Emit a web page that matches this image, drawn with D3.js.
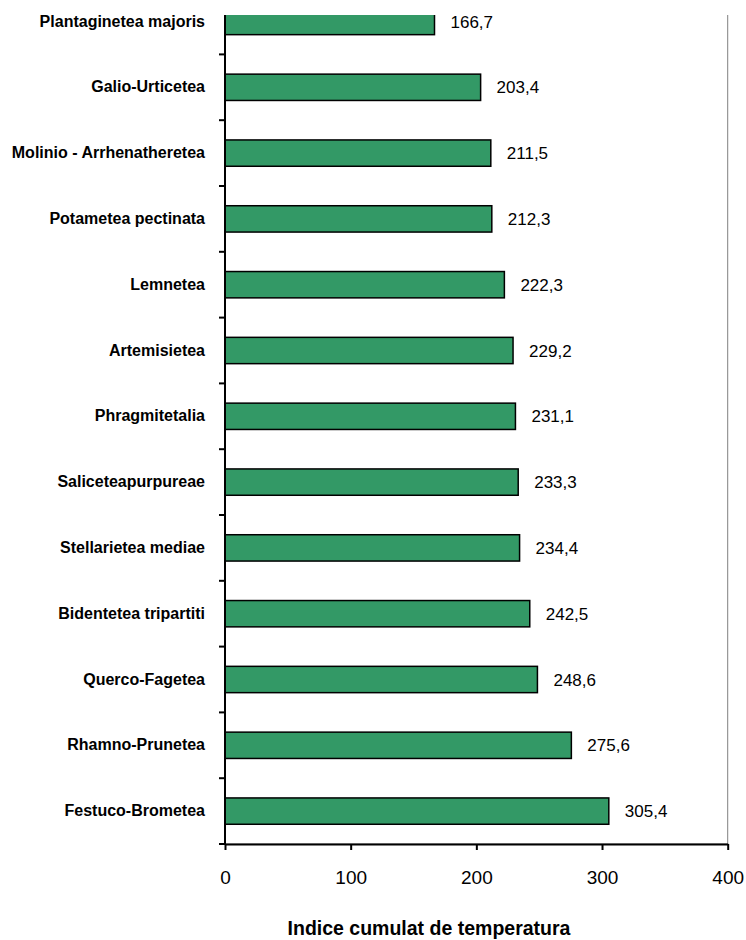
<!DOCTYPE html>
<html>
<head>
<meta charset="utf-8">
<script src="https://cdn.jsdelivr.net/npm/d3@7/dist/d3.min.js"></script>
<style>
  html, body { margin: 0; padding: 0; background: #fff; }
  svg { display: block; }
</style>
</head>
<body>
<script>
// Plant community classes, top to bottom
const categories = [
  "Plantaginetea majoris",
  "Galio-Urticetea",
  "Molinio - Arrhenatheretea",
  "Potametea pectinata",
  "Lemnetea",
  "Artemisietea",
  "Phragmitetalia",
  "Saliceteapurpureae",
  "Stellarietea mediae",
  "Bidentetea tripartiti",
  "Querco-Fagetea",
  "Rhamno-Prunetea",
  "Festuco-Brometea"
];
// Cumulative temperature index per class
const values = [166.7, 203.4, 211.5, 212.3, 222.3, 229.2, 231.1, 233.3, 234.4, 242.5, 248.6, 275.6, 305.4];
const xTicks = [0, 100, 200, 300, 400];
const xTitle = "Indice cumulat de temperatura";

const W = 746, H = 940;
const plotLeft = 225, plotRight = 727.7, plotTop = -11.4, plotBottom = 844, visibleTop = 15;

const svg = d3.select("body").append("svg")
  .attr("width", W).attr("height", H);

const x = d3.scaleLinear().domain([0, 400]).range([plotLeft, plotRight]);
const y = d3.scaleBand().domain(categories).range([plotTop, plotBottom])
  .paddingInner(0.6).paddingOuter(0.3);
const yBand = d3.scaleBand().domain(categories).range([plotTop, plotBottom]).padding(0);

svg.append("defs").append("clipPath").attr("id", "plotClip")
  .append("rect").attr("x", 0).attr("y", visibleTop).attr("width", W).attr("height", H - visibleTop);

const plot = svg.append("g").attr("clip-path", "url(#plotClip)");

// plot area border (only the right side remains visible)
plot.append("rect")
  .attr("x", x(0)).attr("y", plotTop)
  .attr("width", x(400) - x(0)).attr("height", plotBottom - plotTop)
  .attr("fill", "none").attr("stroke", "#808080").attr("stroke-width", 1);

// bars
const rows = categories.map((c, i) => ({ c, v: values[i] }));
plot.selectAll("rect.bar").data(rows).join("rect")
  .attr("class", "bar")
  .attr("x", x(0))
  .attr("y", d => y(d.c))
  .attr("width", d => x(d.v) - x(0))
  .attr("height", y.bandwidth())
  .attr("fill", "#339966")
  .attr("stroke", "#000").attr("stroke-width", 1.5);

// value labels
const fmt = v => d3.format(".1f")(v).replace(".", ",");
svg.selectAll("text.val").data(rows).join("text")
  .attr("class", "val")
  .attr("x", d => x(d.v) + 16)
  .attr("y", d => y(d.c) + y.bandwidth() / 2)
  .attr("dy", "0.36em")
  .attr("font-family", "Liberation Sans, Arial, sans-serif")
  .attr("font-size", 17)
  .attr("fill", "#000")
  .text(d => fmt(d.v));

// left axis: line plus ticks on category boundaries
plot.append("line")
  .attr("x1", plotLeft).attr("x2", plotLeft)
  .attr("y1", plotTop).attr("y2", plotBottom)
  .attr("stroke", "#000").attr("stroke-width", 2);
plot.selectAll("line.ytick").data(categories.slice(1).concat([null])).join("line")
  .attr("class", "ytick")
  .attr("x1", plotLeft - 6).attr("x2", plotLeft)
  .attr("y1", d => d === null ? plotBottom : yBand(d))
  .attr("y2", d => d === null ? plotBottom : yBand(d))
  .attr("stroke", "#000").attr("stroke-width", 2);

// category labels
const yAxis = svg.append("g")
  .attr("transform", `translate(${plotLeft},0)`)
  .call(d3.axisLeft(y).tickSize(0).tickPadding(20));
yAxis.select(".domain").remove();
yAxis.selectAll("text")
  .attr("font-family", "Liberation Sans, Arial, sans-serif")
  .attr("font-size", 16)
  .attr("font-weight", "bold")
  .attr("fill", "#000");

// bottom axis
const xAxis = svg.append("g")
  .attr("transform", `translate(0,${plotBottom})`)
  .call(d3.axisBottom(x).tickValues(xTicks).tickFormat(d3.format("d"))
    .tickSize(6).tickSizeOuter(0).tickPadding(21));
xAxis.select(".domain").attr("stroke", "#000").attr("stroke-width", 2);
xAxis.selectAll(".tick line").attr("stroke", "#000").attr("stroke-width", 2);
xAxis.selectAll("text")
  .attr("font-family", "Liberation Sans, Arial, sans-serif")
  .attr("font-size", 19)
  .attr("fill", "#000");

// axis title
svg.append("text")
  .attr("x", 429).attr("y", 935)
  .attr("text-anchor", "middle")
  .attr("font-family", "Liberation Sans, Arial, sans-serif")
  .attr("font-size", 19.5)
  .attr("font-weight", "bold")
  .attr("fill", "#000")
  .text(xTitle);
</script>
</body>
</html>
